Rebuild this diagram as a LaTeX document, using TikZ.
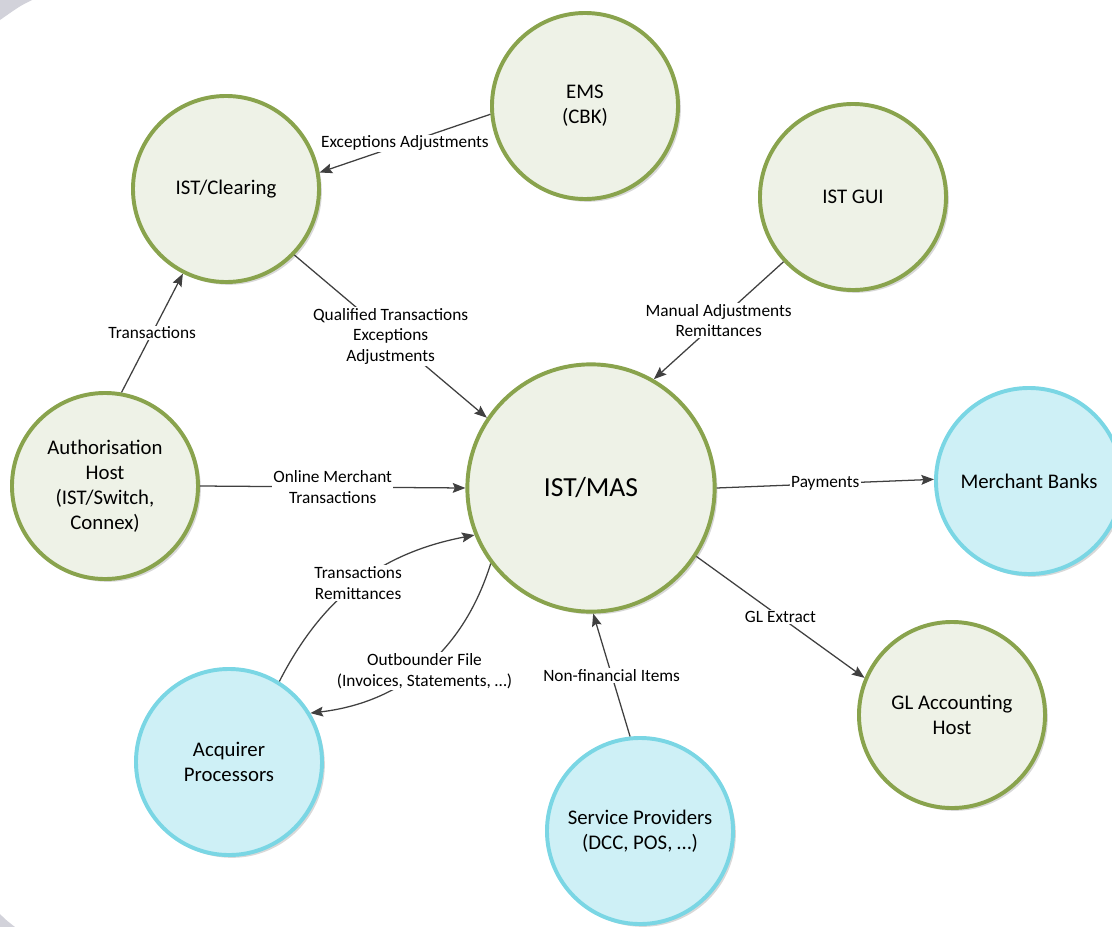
\documentclass[tikz,border=0pt]{standalone}
\usepackage{fontspec}
\setmainfont{Carlito}
\usepackage{tikz}
\usetikzlibrary{arrows.meta,shapes,positioning,shadows}
\usepackage{xcolor}
\definecolor{masgreen}{RGB}{137,163,77}
\definecolor{masgreenfill}{RGB}{238,242,231}
\definecolor{masblue}{RGB}{122,214,228}
\definecolor{masbluefill}{RGB}{206,240,246}
\definecolor{masline}{RGB}{64,64,64}
\definecolor{masgrey}{RGB}{210,210,218}
\tikzstyle{arrow} = [line width=0.9pt,-{Stealth[length=9pt,width=7pt,inset=1.5pt]},color=masline]
\tikzstyle{sysnode} = [circle, minimum size=4.65cm, inner sep=0pt, align=center, draw=masgreen, fill=masgreenfill, line width=2.8pt, drop shadow={shadow xshift=2pt, shadow yshift=-2pt, fill=black!30, opacity=0.5}, font=\fontsize{14.8}{17.8}\selectfont]
\tikzstyle{extnode} = [sysnode, draw=masblue, fill=masbluefill]
\tikzstyle{flowlabel} = [fill=white, inner sep=1pt, align=center, text=black, font=\fontsize{12.3}{14.6}\selectfont]

\begin{document}
\begin{tikzpicture}[x=0.025cm, y=-0.025cm]
\useasboundingbox (0,0) rectangle (1112,927);
% Background corners
\fill[masgrey] (0,0) -- (32,0) .. controls (20,6) .. (0,20) -- cycle;
\fill[masgrey] (0,914) .. controls (6,920) .. (15,927) -- (0,927) -- cycle;

% Systems
\node[sysnode] (clearing) at (226,189) {IST/Clearing};
\node[sysnode] (ems) at (585,106) {EMS\\(CBK)};
\node[sysnode] (gui) at (853,197) {IST GUI};
\node[sysnode, minimum size=6.18cm, font=\fontsize{19.6}{23}\selectfont] (mas) at (591,488) {IST/MAS};
\node[sysnode] (auth) at (105,486) {Authorisation\\Host\\(IST/Switch,\\Connex)};
\node[sysnode] (gl) at (952,715) {GL Accounting\\Host};

% External parties
\node[extnode] (banks) at (1029,481) {Merchant Banks};
\node[extnode] (providers) at (640,831) {Service Providers\\(DCC, POS, …)};
\node[extnode] (acquirer) at (229,762) {Acquirer\\Processors};

% Arrows
\draw[arrow] (ems.185) -- node[flowlabel] {Exceptions Adjustments} (clearing.10);
\draw[arrow] (auth.80) -- node[flowlabel] {Transactions} (clearing.243);
\draw[arrow] (clearing.316) -- node[flowlabel] {Qualified Transactions\\Exceptions\\Adjustments} (mas.146);
\draw[arrow] (gui.223) -- node[flowlabel] {Manual Adjustments\\Remittances} (mas.60);
\draw[arrow] (auth.0) -- node[flowlabel] {Online Merchant\\Transactions} (mas.180);
\draw[arrow] (mas.0) -- node[flowlabel] {Payments} (banks.179);
\draw[arrow] (mas.327) -- node[flowlabel] {GL Extract} (gl.157);
\draw[arrow] (providers.96) -- node[flowlabel] {Non-financial Items} (mas.271);
\draw[arrow] (acquirer.58) to[bend left=26] node[flowlabel] {Transactions\\Remittances} (mas.202);
\draw[arrow] (mas.217) to[bend left=33] node[flowlabel, yshift=-0.1cm] {Outbounder File\\(Invoices, Statements, …)} (acquirer.31);
\end{tikzpicture}
\end{document}
